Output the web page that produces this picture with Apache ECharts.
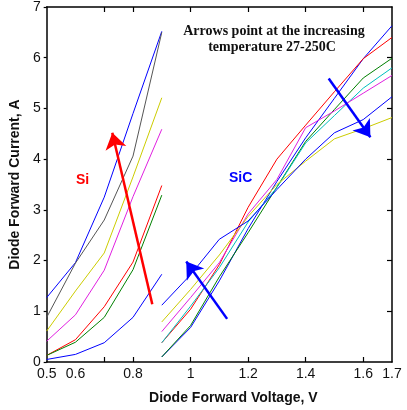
<!DOCTYPE html>
<html>
<head>
<meta charset="utf-8">
<script src="https://cdn.jsdelivr.net/npm/echarts@6/dist/echarts.min.js"></script>
<style>html,body{margin:0;padding:0;background:#fff}#c{width:407px;height:410px}</style>
</head>
<body>
<div id="c"></div>
<script>
// Si curves (x = 0.5..0.9)
const siX = [0.5, 0.6, 0.7, 0.8, 0.9];
const si1 = [1.27, 1.96, 3.25, 4.90, 6.52];
const si2 = [0.88, 1.95, 2.80, 4.06, 6.50];
const si3 = [0.61, 1.40, 2.15, 3.65, 5.21];
const si4 = [0.41, 0.93, 1.81, 3.26, 4.59];
const si5 = [0.13, 0.44, 1.09, 1.97, 3.48];
const si6 = [0.13, 0.39, 0.88, 1.82, 3.29];
const si7 = [0.05, 0.15, 0.38, 0.88, 1.73];
const siColors = ['#0000ff', '#555555', '#cccc00', '#e020e0', '#ff0000', '#008000', '#0000ff'];

// SiC curves (x = 0.9..1.7)
const sicX = [0.9, 1.0, 1.1, 1.2, 1.3, 1.4, 1.5, 1.6, 1.7];
const sic1 = [0.10, 0.68, 1.60, 2.63, 3.56, 4.42, 5.20, 5.98, 6.63];
const sic2 = [0.10, 0.72, 1.68, 2.55, 3.45, 4.35, 4.98, 5.60, 5.99];
const sic3 = [0.38, 1.04, 1.92, 3.05, 4.00, 4.67, 5.33, 5.98, 6.40];
const sic4 = [0.38, 1.10, 1.86, 2.76, 3.44, 4.32, 4.86, 5.40, 5.80];
const sic5 = [0.60, 1.27, 1.96, 2.92, 3.60, 4.62, 4.95, 5.30, 5.65];
const sic6 = [0.79, 1.43, 2.11, 2.87, 3.50, 3.96, 4.40, 4.60, 4.82];
const sic7 = [1.12, 1.72, 2.42, 2.78, 3.40, 4.00, 4.52, 4.78, 5.23];
const sicColors = ['#0000ff', '#008000', '#ff0000', '#00bfbf', '#e020e0', '#cccc00', '#0000ff'];

// Arrows: [tail, head]
const arrowSi = [[0.867, 1.14], [0.728, 4.52]];
const arrowSiC1 = [[1.127, 0.85], [0.985, 1.98]];
const arrowSiC2 = [[1.480, 5.59], [1.625, 4.43]];

// Ticks
const xLabelValues = [0.5, 0.6, 0.8, 1.0, 1.2, 1.4, 1.6, 1.7];
const xTickValues = [0.7, 0.8, 1.0, 1.2, 1.4, 1.6];
const yTickValues = [1, 2, 3, 4, 5, 6];

const siSets = [si1, si2, si3, si4, si5, si6, si7];
const sicSets = [sic1, sic2, sic3, sic4, sic5, sic6, sic7];

const series = [];
siSets.forEach((arr, i) => {
  series.push({
    type: 'line', name: 'Si' + (i + 1), showSymbol: false, symbol: 'none',
    data: siX.map((x, j) => [x, arr[j]]),
    lineStyle: { color: siColors[i], width: 1 }, itemStyle: { color: siColors[i] },
    animation: false, z: 2
  });
});
sicSets.forEach((arr, i) => {
  series.push({
    type: 'line', name: 'SiC' + (i + 1), showSymbol: false, symbol: 'none',
    data: sicX.map((x, j) => [x, arr[j]]),
    lineStyle: { color: sicColors[i], width: 1 }, itemStyle: { color: sicColors[i] },
    animation: false, z: 2
  });
});
[[arrowSi, '#ff0000'], [arrowSiC1, '#0000ff'], [arrowSiC2, '#0000ff']].forEach(([a, c]) => {
  series.push({
    type: 'lines', coordinateSystem: 'cartesian2d', animation: false, z: 5,
    symbol: ['none', 'arrow'], symbolSize: 16,
    lineStyle: { color: c, width: 2.5, opacity: 1, curveness: 0 },
    data: [{ coords: a }]
  });
});

const chart = echarts.init(document.getElementById('c'), null, { renderer: 'canvas' });
const axisFont = { fontFamily: 'Liberation Sans, Arial, sans-serif', fontSize: 14, color: '#111' };
chart.setOption({
  animation: false,
  backgroundColor: '#fff',
  grid: { left: 46, right: 15, top: 7, bottom: 43, containLabel: false },
  xAxis: [{
    type: 'value', min: 0.5, max: 1.7, position: 'bottom',
    name: 'Diode Forward Voltage, V', nameLocation: 'middle', nameGap: 29,
    nameTextStyle: { fontFamily: 'Liberation Sans, Arial, sans-serif', fontSize: 14, fontWeight: 'bold', color: '#111', padding: [0, 0, 0, 28] },
    axisLine: { show: true, onZero: false, lineStyle: { color: '#000', width: 1.5 } },
    axisTick: { show: true, inside: true, length: 5, customValues: xTickValues, lineStyle: { color: '#000', width: 1.2 } },
    axisLabel: Object.assign({ show: true, margin: 5, customValues: xLabelValues, showMinLabel: true, showMaxLabel: true }, axisFont),
    splitLine: { show: false }
  }, {
    type: 'value', min: 0.5, max: 1.7, position: 'top',
    axisLine: { show: true, onZero: false, lineStyle: { color: '#000', width: 1.5 } },
    axisTick: { show: true, inside: true, length: 5, customValues: xTickValues, lineStyle: { color: '#000', width: 1.2 } },
    axisLabel: { show: false, customValues: xTickValues },
    splitLine: { show: false }
  }],
  yAxis: [{
    type: 'value', min: 0, max: 7, interval: 1, position: 'left',
    name: 'Diode Forward Current, A', nameLocation: 'middle', nameGap: 17,
    nameTextStyle: { fontFamily: 'Liberation Sans, Arial, sans-serif', fontSize: 14, fontWeight: 'bold', color: '#111' },
    axisLine: { show: true, onZero: false, lineStyle: { color: '#000', width: 1.5 } },
    axisTick: { show: true, inside: false, length: 3, lineStyle: { color: '#000', width: 1.2 } },
    axisLabel: Object.assign({ margin: 6, showMinLabel: true, showMaxLabel: true }, axisFont),
    splitLine: { show: false }
  }, {
    type: 'value', min: 0, max: 7, interval: 1, position: 'right',
    axisLine: { show: true, onZero: false, lineStyle: { color: '#000', width: 1.5 } },
    axisTick: { show: true, inside: true, length: 5, customValues: yTickValues, lineStyle: { color: '#000', width: 1.2 } },
    axisLabel: { show: false, customValues: yTickValues },
    splitLine: { show: false }
  }],
  graphic: [
    { type: 'text', left: 76, top: 173, style: { text: 'Si', font: 'bold 14px "Liberation Sans", Arial, sans-serif', fill: '#ff0000' } },
    { type: 'text', left: 229, top: 171, style: { text: 'SiC', font: 'bold 14px "Liberation Sans", Arial, sans-serif', fill: '#0000ff' } },
    { type: 'text', x: 274, y: 31, style: { text: 'Arrows point at the increasing', font: 'bold 14px "Liberation Serif", "Times New Roman", serif', fill: '#111', align: 'center', verticalAlign: 'middle' } },
    { type: 'text', x: 272, y: 47, style: { text: 'temperature 27-250C', font: 'bold 14px "Liberation Serif", "Times New Roman", serif', fill: '#111', align: 'center', verticalAlign: 'middle' } }
  ],
  series: series
});
</script>
</body>
</html>
